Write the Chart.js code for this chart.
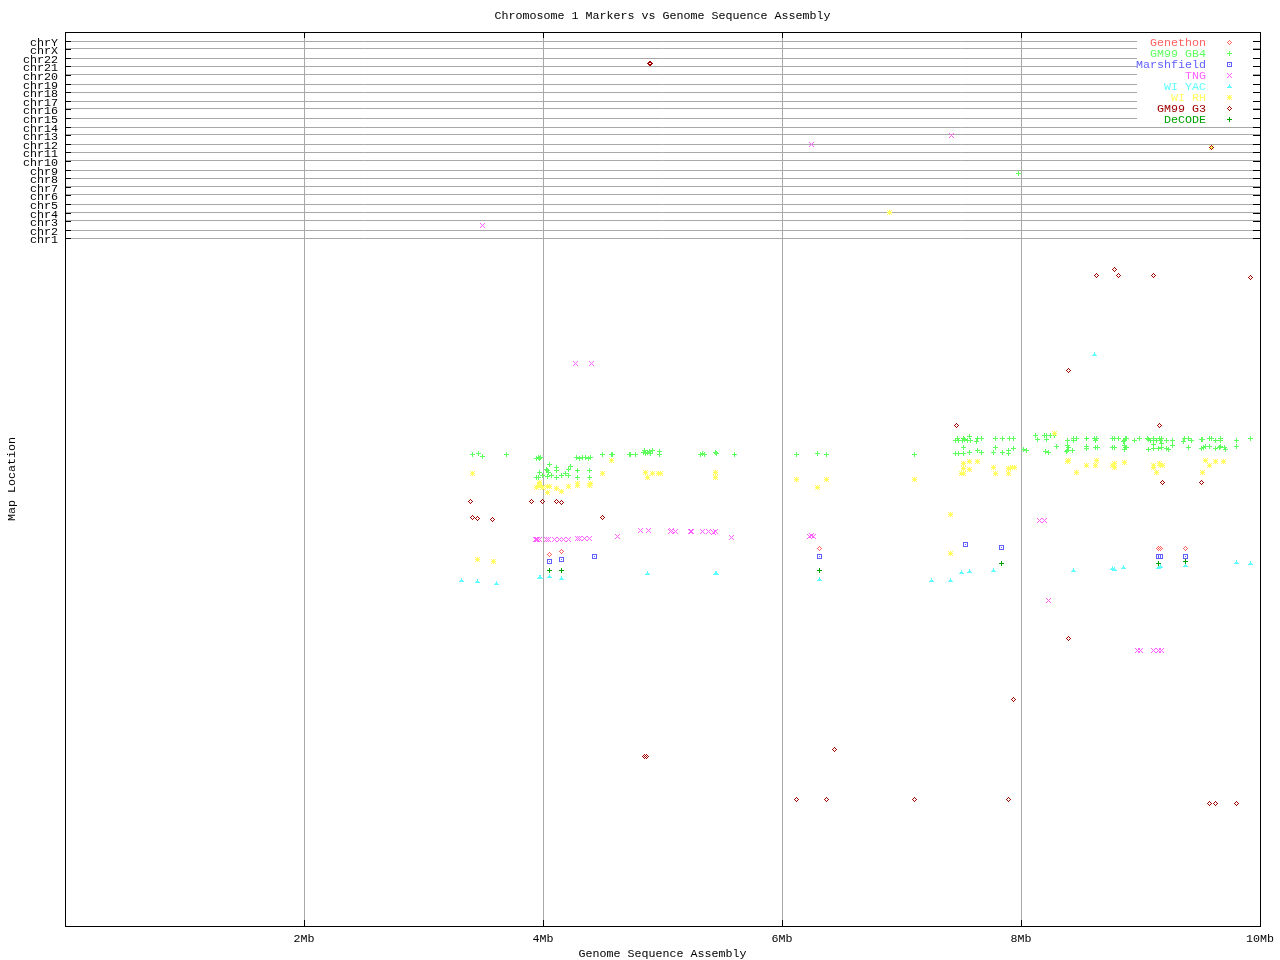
<!DOCTYPE html>
<html>
<head>
<meta charset="utf-8">
<title>Chromosome 1 Markers vs Genome Sequence Assembly</title>
<script src="https://cdn.jsdelivr.net/npm/chart.js@4"></script>
<style>
	html, body { margin: 0; padding: 0; background: #fff; }
	canvas { display: block; }
</style>
</head>
<body>
<canvas id="marker-chart" width="1280" height="960"></canvas>
<script>
var seriesNames = ["Genethon", "GM99 GB4", "Marshfield", "TNG", "WI YAC", "WI RH", "GM99 G3", "DeCODE"];
var seriesColors = ["#ff6060", "#60ff60", "#6060ff", "#ff60ff", "#60ffff", "#ffff60", "#a00000", "#00a000"];

var chrLabels = ["chr1", "chr2", "chr3", "chr4", "chr5", "chr6", "chr7", "chr8", "chr9", "chr10", "chr11", "chr12", "chr13", "chr14", "chr15", "chr16", "chr17", "chr18", "chr19", "chr20", "chr21", "chr22", "chrX", "chrY"];
var chrPositions = [688, 696, 705, 713, 722, 731, 739, 748, 756, 765, 774, 782, 791, 799, 808, 817, 825, 834, 842, 851, 860, 868, 877, 885];
var mbTicks = [0, 2, 4, 6, 8, 10];

// every series: position on the assembly in Mb, and location on the map
var genethonMb = [4.054, 4.155, 6.314, 9.151, 9.168, 9.377];
var genethonMap = [371.5, 374.5, 377.5, 377.5, 377.5, 377.5];

var gb4Mb = [3.410, 3.460, 3.494, 3.695, 3.946, 3.962, 3.971, 3.979, 4.054, 4.280, 4.305, 4.330, 4.356, 4.381, 4.397, 4.498, 4.573, 4.582,
	4.029, 4.038, 4.046, 4.113, 4.113, 4.230, 4.213, 3.971, 4.288, 4.389, 4.288, 4.389, 3.946, 3.962, 3.996, 4.038, 4.071, 4.113, 4.155, 4.188, 4.213,
	4.724, 4.732, 4.774, 4.841, 4.849, 4.858, 4.875, 4.891, 4.900, 4.916, 4.975, 4.975, 5.318, 5.335, 5.351, 5.444, 5.452, 5.603, 6.121, 6.297, 6.372, 7.109,
	7.452, 7.469, 7.477, 7.510, 7.519, 7.527, 7.552, 7.569, 7.577, 7.636, 7.628, 7.669, 7.787, 7.845, 7.904, 7.938,
	7.519, 7.452, 7.477, 7.519, 7.569, 7.636, 7.669, 7.770, 7.787, 7.845, 7.895, 7.895, 7.938, 8.021, 8.046,
	8.121, 8.138, 8.197, 8.213, 8.213, 8.247, 8.280, 8.205, 8.230, 8.297, 8.389, 8.439, 8.439, 8.464, 8.548, 8.548, 8.548, 8.381, 8.389, 8.397, 8.389, 8.431,
	8.615, 8.632, 8.623, 8.766, 8.782, 8.816, 8.858, 8.866, 8.874, 8.883, 8.950, 8.992, 9.059, 9.067, 9.084, 9.109, 9.109, 9.134, 9.159, 9.168, 9.176, 9.218, 9.268,
	9.360, 9.368, 9.402, 9.427, 9.510, 9.519, 9.577, 9.594, 9.628, 9.669, 9.669, 9.803, 9.921,
	8.623, 8.640, 8.766, 8.782, 8.866, 8.874, 8.866, 8.883, 9.067, 9.109, 9.109, 9.151, 9.176, 9.176, 9.218, 9.234, 9.268, 9.402, 9.510, 9.527, 9.544, 9.577, 9.628, 9.661, 9.669, 9.703, 9.711, 9.803,
	7.979];
var gb4Map = [471.5, 472.5, 469.5, 471.5, 467.5, 468.5, 467.5, 468.5, 461.5, 468.5, 467.5, 468.5, 468.5, 467.5, 468.5, 471.5, 471.5, 471.5,
	456.5, 455.5, 453.5, 458.5, 455.5, 459.5, 456.5, 453.5, 455.5, 455.5, 448.5, 448.5, 448.5, 448.5, 450.5, 449.5, 450.5, 448.5, 450.5, 452.5, 450.5,
	471.5, 471.5, 471.5, 473.5, 475.5, 472.5, 473.5, 474.5, 472.5, 475.5, 474.5, 471.5, 471.5, 472.5, 471.5, 473.5, 472.5, 471.5, 471.5, 472.5, 471.5, 471.5,
	485.5, 487.5, 485.5, 485.5, 487.5, 486.5, 485.5, 489.5, 485.5, 487.5, 484.5, 487.5, 487.5, 487.5, 487.5, 487.5,
	478.5, 472.5, 472.5, 472.5, 473.5, 475.5, 473.5, 473.5, 478.5, 473.5, 475.5, 472.5, 477.5, 476.5, 475.5,
	490.5, 486.5, 490.5, 490.5, 486.5, 490.5, 490.5, 474.5, 473.5, 479.5, 485.5, 485.5, 487.5, 487.5, 487.5, 479.5, 477.5, 474.5, 475.5, 478.5, 480.5, 475.5,
	487.5, 487.5, 485.5, 487.5, 487.5, 487.5, 484.5, 485.5, 487.5, 487.5, 485.5, 487.5, 487.5, 486.5, 485.5, 487.5, 485.5, 485.5, 487.5, 485.5, 487.5, 485.5, 485.5,
	484.5, 487.5, 487.5, 485.5, 486.5, 486.5, 487.5, 487.5, 485.5, 487.5, 485.5, 485.5, 487.5,
	478.5, 478.5, 478.5, 478.5, 480.5, 478.5, 476.5, 478.5, 476.5, 481.5, 477.5, 477.5, 482.5, 478.5, 477.5, 476.5, 480.5, 478.5, 477.5, 478.5, 479.5, 479.5, 477.5, 478.5, 479.5, 478.5, 476.5, 479.5,
	752.5];

var marshfieldMb = [4.054, 4.155, 4.431, 6.314, 7.536, 7.837, 9.151, 9.168, 9.377];
var marshfieldMap = [364.5, 366.5, 369.5, 369.5, 381.5, 378.5, 369.5, 369.5, 369.5];

var tngMb = [3.937, 3.946, 3.954, 3.971, 4.029, 4.046, 4.096, 4.138, 4.172, 4.213, 4.288, 4.305, 4.347, 4.389, 4.623, 4.816, 4.883, 5.067, 5.076, 5.109, 5.234, 5.243, 5.335, 5.385, 5.427, 5.444, 5.577, 6.230, 6.247, 6.264,
	3.494, 6.247, 7.418, 4.272, 4.406, 8.155, 8.197, 8.230, 8.975, 9.000, 9.109, 9.151, 9.176];
var tngMap = [386.5, 386.5, 386.5, 386.5, 386.5, 386.5, 386.5, 386.5, 386.5, 386.5, 387.5, 387.5, 387.5, 387.5, 389.5, 395.5, 395.5, 394.5, 395.5, 394.5, 394.5, 394.5, 394.5, 394.5, 393.5, 394.5, 388.5, 389.5, 390.5, 389.5,
	700.5, 781.5, 790.5, 562.5, 562.5, 405.5, 405.5, 325.5, 275.5, 275.5, 275.5, 275.5, 275.5];

var yacMb = [3.318, 3.452, 3.611, 3.971, 3.979, 4.054, 4.155, 4.875, 5.444, 5.452, 6.314, 7.251, 7.410, 7.502, 7.569, 7.770, 8.439, 8.766, 8.782, 8.858, 9.151, 9.168, 9.377, 9.803, 9.921, 8.615];
var yacMap = [345.5, 344.5, 342.5, 348.5, 348.5, 349.5, 347.5, 352.5, 352.5, 352.5, 346.5, 345.5, 345.5, 353.5, 354.5, 355.5, 355.5, 357.5, 356.5, 358.5, 358.5, 359.5, 360.5, 363.5, 362.5, 571.5];

var rhMb = [4.573, 3.410, 4.498, 3.971, 3.946, 3.971, 3.996, 4.038, 4.054, 4.038, 4.113, 4.155, 4.213, 4.288, 4.288, 4.397, 4.389, 3.452, 3.586,
	4.858, 4.875, 4.916, 4.967, 4.983, 5.444, 5.444, 6.121, 6.372, 6.297, 7.109, 7.519, 7.569, 7.636, 7.519, 7.569, 7.502, 7.519, 7.770, 7.787, 7.895, 7.895, 7.929, 7.946, 7.410, 7.410,
	8.280, 8.389, 8.397, 8.548, 8.464, 8.632, 8.623, 8.782, 8.766, 8.782, 8.866, 9.109, 9.109, 9.159, 9.168, 9.184, 9.134, 9.544, 9.577, 9.628, 9.694, 9.519, 6.900, 9.594];
var rhMap = [465.5, 452.5, 452.5, 443.5, 438.5, 440.5, 438.5, 439.5, 439.5, 433.5, 437.5, 434.5, 439.5, 442.5, 440.5, 442.5, 440.5, 366.5, 364.5,
	453.5, 448.5, 452.5, 452.5, 452.5, 453.5, 448.5, 446.5, 446.5, 438.5, 446.5, 462.5, 464.5, 464.5, 457.5, 456.5, 452.5, 452.5, 458.5, 452.5, 457.5, 452.5, 458.5, 458.5, 411.5, 372.5,
	492.5, 464.5, 465.5, 460.5, 453.5, 465.5, 460.5, 462.5, 460.5, 458.5, 463.5, 460.5, 458.5, 462.5, 460.5, 460.5, 453.5, 465.5, 460.5, 464.5, 464.5, 453.5, 713.5, 778.5];

var g3Mb = [3.393, 3.904, 3.996, 4.113, 4.155, 3.410, 3.452, 3.577, 4.498, 4.891, 4.900, 9.594, 7.460, 9.159, 9.184, 9.510, 8.632, 8.782, 8.816, 9.109, 9.921, 8.397, 4.849, 4.866, 6.439, 6.121, 6.372, 7.109, 7.895, 8.397, 7.938, 9.577, 9.628, 9.803];
var g3Map = [424.5, 424.5, 424.5, 424.5, 423.5, 408.5, 407.5, 406.5, 408.5, 862.5, 862.5, 778.5, 500.5, 500.5, 443.5, 443.5, 650.5, 656.5, 650.5, 650.5, 648.5, 555.5, 169.5, 169.5, 176.5, 126.5, 126.5, 126.5, 126.5, 287.5, 226.5, 122.5, 122.5, 122.5];

var decodeMb = [4.054, 4.155, 6.314, 7.837, 9.151, 9.377];
var decodeMap = [355.5, 355.5, 355.5, 362.5, 362.5, 364.5];

var seriesMb = [genethonMb, gb4Mb, marshfieldMb, tngMb, yacMb, rhMb, g3Mb, decodeMb];
var seriesMap = [genethonMap, gb4Map, marshfieldMap, tngMap, yacMap, rhMap, g3Map, decodeMap];

// 5x5 bitmap markers, the image has hard pixels with no smoothing
var diamond = ["..#..", ".#.#.", "#...#", ".#.#.", "..#.."];
var plus = ["..#..", "..#..", "#####", "..#..", "..#.."];
var box = ["#####", "#...#", "#.#.#", "#...#", "#####"];
var cross = ["#...#", ".#.#.", "..#..", ".#.#.", "#...#"];
var triangle = ["..#..", "..#..", ".###.", "#####", "....."];
var star = ["#.#.#", ".###.", "#####", ".###.", "#.#.#"];
var seriesMarkers = [diamond, plus, box, cross, triangle, star, diamond, plus];

var monoFont = '"Liberation Mono", monospace';
var fontSize = 11.67;

function makeSprite(rows, color){
	var c = document.createElement("canvas");
	c.width = rows[0].length;
	c.height = rows.length;
	var g = c.getContext("2d");
	g.fillStyle = color;
	for(var r = 0; r < rows.length; r++){
		for(var i = 0; i < rows[r].length; i++){
			if(rows[r][i] === "#") g.fillRect(i, r, 1, 1);
		}
	}
	return c;
}

var sprites = seriesNames.map(function(name, i){
	return makeSprite(seriesMarkers[i], seriesColors[i]);
});

var datasets = seriesNames.map(function(name, i){
	return {
		label: name,
		data: seriesMb[i].map(function(mb, j){ return {x: mb, y: seriesMap[i][j]}; }),
		pointStyle: sprites[i],
		pointRadius: 3,
		showLine: false,
		order: seriesNames.length - i
	};
});

// snap markers to whole pixels so the sprites stay sharp
var snapMarkers = {
	id: "snapMarkers",
	beforeDatasetsDraw: function(chart){
		chart.getSortedVisibleDatasetMetas().forEach(function(meta){
			meta.data.forEach(function(p){
				p.x = Math.floor(p.x) + 0.5;
				p.y = Math.floor(p.y) + 0.5;
			});
		});
	}
};

// plot frame, inward tick marks and the legend block
var frame = {
	id: "frame",
	beforeDatasetsDraw: function(chart){
		var ctx = chart.ctx, a = chart.chartArea;
		ctx.save();
		ctx.fillStyle = "#fff";
		ctx.fillRect(1137, 36, 116, 89);
		ctx.strokeStyle = "#000";
		ctx.lineWidth = 1;
		ctx.beginPath();
		chart.scales.x.ticks.forEach(function(t){
			var px = Math.round(chart.scales.x.getPixelForValue(t.value)) + 0.5;
			ctx.moveTo(px, a.top);
			ctx.lineTo(px, a.top + 6);
			ctx.moveTo(px, a.bottom);
			ctx.lineTo(px, a.bottom - 6);
		});
		chart.scales.y.ticks.forEach(function(t){
			var py = Math.round(chart.scales.y.getPixelForValue(t.value)) + 0.5;
			ctx.moveTo(a.left, py);
			ctx.lineTo(a.left + 6, py);
			ctx.moveTo(a.right, py);
			ctx.lineTo(a.right - 7, py);
		});
		ctx.stroke();
		ctx.strokeRect(a.left + 0.5, a.top + 0.5, a.right - a.left, a.bottom - a.top);
		ctx.restore();
	},
	afterDatasetsDraw: function(chart){
		var ctx = chart.ctx;
		ctx.save();
		ctx.imageSmoothingEnabled = false;
		ctx.font = fontSize + "px " + monoFont;
		ctx.textAlign = "right";
		ctx.textBaseline = "middle";
		seriesNames.forEach(function(name, i){
			var rowY = 43 + i * 11;
			ctx.fillStyle = seriesColors[i];
			ctx.fillText(name, 1206, rowY);
			ctx.drawImage(sprites[i], 1227, rowY - 3);
		});
		ctx.restore();
	}
};

var ctx = document.getElementById("marker-chart");
var markerChart = new Chart(ctx, {
	type: "scatter",
	data: {datasets: datasets},
	plugins: [snapMarkers, frame],
	options: {
		responsive: false,
		devicePixelRatio: 1,
		animation: false,
		events: [],
		layout: {padding: {left: 0, right: 20, top: 0, bottom: 0}},
		plugins: {
			legend: {display: false},
			tooltip: {enabled: false},
			title: {
				display: true,
				fullSize: false,
				text: "Chromosome 1 Markers vs Genome Sequence Assembly",
				color: "#000",
				font: {family: monoFont, size: fontSize, weight: "normal", lineHeight: 14 / fontSize},
				padding: {top: 9, bottom: 9}
			}
		},
		scales: {
			x: {
				type: "linear",
				min: 0,
				max: 10,
				afterBuildTicks: function(scale){
					scale.ticks = mbTicks.map(function(v){ return {value: v}; });
				},
				afterFit: function(scale){ scale.height = 34; },
				grid: {color: "#a8a8a8", drawTicks: false},
				border: {display: false},
				ticks: {
					color: "#000",
					font: {family: monoFont, size: fontSize},
					padding: 6,
					maxRotation: 0,
					autoSkip: false,
					callback: function(v){ return v === 0 ? "" : v + "Mb"; }
				},
				title: {
					display: true,
					text: "Genome Sequence Assembly",
					color: "#000",
					font: {family: monoFont, size: fontSize, lineHeight: 12 / fontSize},
					padding: 0
				}
			},
			y: {
				type: "linear",
				min: 0,
				max: 894,
				afterBuildTicks: function(scale){
					scale.ticks = chrPositions.map(function(v){ return {value: v}; });
				},
				afterFit: function(scale){ scale.width = 65; },
				grid: {color: "#a8a8a8", drawTicks: false},
				border: {display: false},
				ticks: {
					color: "#000",
					font: {family: monoFont, size: fontSize},
					padding: 7,
					labelOffset: 1.5,
					autoSkip: false,
					callback: function(v, i){ return chrLabels[i]; }
				},
				title: {
					display: true,
					text: "Map Location",
					color: "#000",
					font: {family: monoFont, size: fontSize, lineHeight: 14 / fontSize},
					padding: {top: 5, bottom: 0}
				}
			}
		}
	}
});
</script>
</body>
</html>
